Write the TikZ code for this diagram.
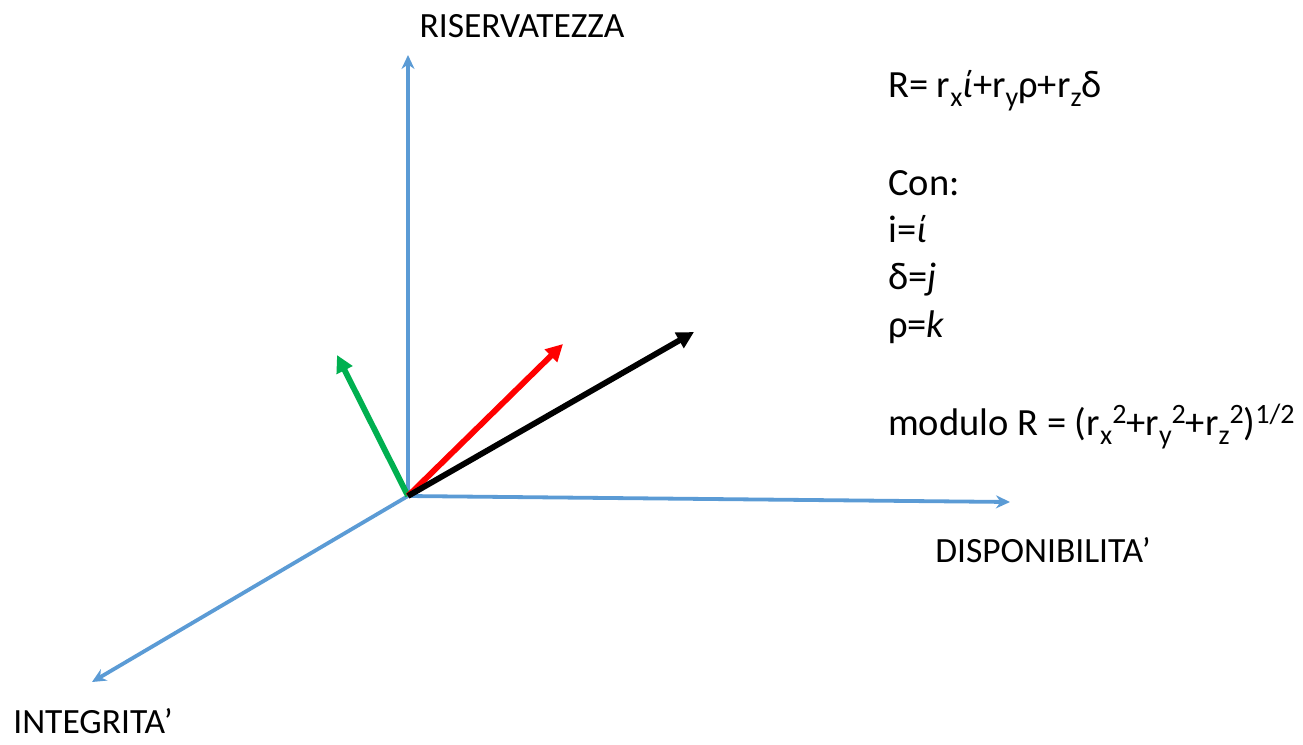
\documentclass[tikz,border=0pt]{standalone}
\usepackage{fontspec}
\setmainfont{Carlito}
\usepackage{xcolor}
\definecolor{axisblue}{RGB}{91,155,213}
\definecolor{vecgreen}{RGB}{0,176,80}
\definecolor{vecred}{RGB}{255,0,0}
\usetikzlibrary{arrows.meta,positioning}
\newcommand{\sbs}[1]{\raisebox{-9pt}{\fontsize{28}{28}\selectfont #1}}
\newcommand{\sps}[1]{\raisebox{12pt}{\fontsize{28}{28}\selectfont #1}}
\tikzset{
  axis/.style={draw=axisblue,line width=3.8pt,-{Stealth[length=14pt,width=13pt]}},
  vector/.style={line width=5.8pt,-{Triangle[length=17pt,width=17pt]}},
  axislabel/.style={font=\fontsize{35.5}{42}\selectfont,anchor=base,inner sep=0pt},
  formula/.style={font=\fontsize{38.5}{46}\selectfont,anchor=base west,inner sep=0pt}
}
\begin{document}
\begin{tikzpicture}[x=1pt,y=-1pt]
  \useasboundingbox (0,0) rectangle (1303,744);
  % origin and axis ends
  \coordinate (O) at (408,496);
  \coordinate (Rend) at (408,55);
  \coordinate (Dend) at (1010,502);
  \coordinate (Iend) at (92,682);
  % vectors
  \coordinate (Gtip) at (337,355);
  \coordinate (Rtip) at (563,344);
  \coordinate (Btip) at (694,332);
  \draw[axis] (O) -- (Rend);
  \draw[axis] (O) -- (Dend);
  \draw[axis] (O) -- (Iend);
  \draw[vector,draw=vecgreen,fill=vecgreen] (O) -- (Gtip);
  \draw[vector,draw=vecred,fill=vecred] (O) -- (Rtip);
  \draw[vector,draw=black,fill=black] (O) -- (Btip);
  % axis labels
  \node[axislabel] (riserv) at (522,37) {RISERVATEZZA};
  \node[axislabel] (dispon) at (1043,562) {DISPONIBILITA’};
  \node[axislabel] (integr) at (93,733) {INTEGRITA’};
  % formula
  \node[formula] (eqR) at (888,97) {R= r\sbs{x}\textit{ί}+r\sbs{y}ρ+r\sbs{z}δ};
  \node[formula] (con) at (888,195) {Con:};
  \node[formula] (eqi) at (888,242) {i=\textit{ί}};
  \node[formula] (eqd) at (888,289) {δ=\textit{j}};
  \node[formula] (eqr) at (888,337) {ρ=\textit{k}};
  \node[formula] (modR) at (888,435) {modulo R = (r\sbs{x}\sps{2}+r\sbs{y}\sps{2}+r\sbs{z}\sps{2})\sps{1/2}};
\end{tikzpicture}
\end{document}
